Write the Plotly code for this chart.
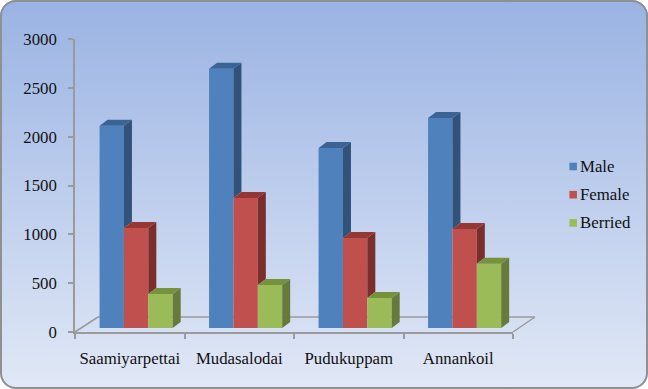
import plotly.graph_objects as go

categories = ["Saamiyarpettai", "Mudasalodai", "Pudukuppam", "Annankoil"]
male = [2070, 2655, 1843, 2150]
female = [1024, 1331, 921, 1013]
berried = [348, 440, 307, 658]
series_names = ["Male", "Female", "Berried"]
front_colors = ["#4f81bd", "#c0504d", "#9bbb59"]
side_colors = ["#315279", "#7a2f2d", "#667a3a"]
top_colors = ["#3b6494", "#953735", "#76923c"]
y_ticks = [0, 500, 1000, 1500, 2000, 2500, 3000]

W, H = 648, 389
L, R, T, B = 74.5, 513, 39, 332
px_x = (R - L) / 4
px_y = (B - T) / 3000
BAR_W = 24.4 / px_x
DX, DY = 8 / px_x, 6 / px_y
BASE = 4 / px_y
START = -30.2 / px_x
all_vals = [male, female, berried]

fig = go.Figure()
x_pos = list(range(4))
for s, vals in enumerate(all_vals):
    fig.add_trace(go.Bar(
        x=x_pos, y=vals, base=[BASE] * 4, width=[BAR_W] * 4,
        offset=[START + s * BAR_W] * 4, name=series_names[s],
        marker=dict(color=front_colors[s], line=dict(width=0)),
        showlegend=False, hoverinfo="skip"))

for s, vals in enumerate(all_vals):
    lower = all_vals[s + 1] if s < 2 else [0] * 4
    sx, sy, tx, ty = [], [], [], []
    for i, v in enumerate(vals):
        xl = i + START + s * BAR_W
        xr = xl + BAR_W
        top = BASE + v
        low = BASE + lower[i]
        sx += [xr, xr + DX, xr + DX, xr, xr, None]
        sy += [top, top + DY, low + DY, low, top, None]
        tx += [xl, xr, xr + DX, xl + DX, xl, None]
        ty += [top, top, top + DY, top + DY, top, None]
    for xs, ys, col in ((sx, sy, side_colors[s]), (tx, ty, top_colors[s])):
        fig.add_trace(go.Scatter(x=xs, y=ys, mode="lines", fill="toself",
                                 fillcolor=col, line=dict(width=0, color=col),
                                 showlegend=False, hoverinfo="skip"))

# floor of the 3D box, behind the bars
px = lambda p: (p - L) / (R - L)
GRID = "#9a9a9a"
floor = [((L, B), (L + 23, B - 15)), ((L + 23, B - 15), (R + 22, B - 15)), ((R + 22, B - 15), (R, B))]
shapes = [dict(type="line", xref="paper", yref="paper", layer="below",
               x0=px(a[0]), x1=px(b[0]), y0=(B - a[1]) / (B - T), y1=(B - b[1]) / (B - T),
               line=dict(color=GRID, width=1.5)) for a, b in floor]

# legend drawn to the reference's small swatches
annotations = []
for s, name in enumerate(series_names):
    yc = 166.5 + s * 28.2
    shapes.append(dict(type="rect", xref="paper", yref="paper", layer="above",
                       x0=px(569.5), x1=px(577), y0=(B - yc - 3.8) / (B - T), y1=(B - yc + 3.8) / (B - T),
                       fillcolor=front_colors[s], line=dict(width=0)))
    annotations.append(dict(text=name, xref="paper", yref="paper", x=px(578.5), y=(B - yc) / (B - T),
                            xanchor="left", yanchor="middle", showarrow=False,
                            font=dict(family="Liberation Serif", size=16.8, color="#111111")))

fig.update_layout(
    width=W, height=H, autosize=False,
    margin=dict(l=L, r=W - R, t=T, b=H - B, pad=0),
    paper_bgcolor="rgba(0,0,0,0)", plot_bgcolor="rgba(0,0,0,0)",
    barmode="overlay", showlegend=False,
    font=dict(family="Liberation Serif", color="#111111"),
    shapes=shapes, annotations=annotations,
    xaxis=dict(range=[-0.5, 3.5], tickmode="array", tickvals=x_pos, ticktext=categories,
               ticks="", showgrid=False, zeroline=False, showline=True, linecolor=GRID, linewidth=1.5,
               tickfont=dict(size=16.8, family="Liberation Serif", color="#111111"),
               ticklabelstandoff=10,
               minor=dict(tickmode="array", tickvals=[-0.5, 0.5, 1.5, 2.5, 3.5], ticks="outside",
                          ticklen=5, tickcolor=GRID, tickwidth=1.5, showgrid=False)),
    yaxis=dict(range=[0, 3000], tickmode="array", tickvals=y_ticks, ticks="outside", ticklen=5,
               tickcolor=GRID, tickwidth=1.5, showgrid=False, zeroline=False, showline=True,
               linecolor=GRID, linewidth=1.5, ticklabelstandoff=8,
               tickfont=dict(size=16.8, family="Liberation Serif", color="#111111")),
)

post = """
document.body.style.margin='0';
document.body.style.background='#ffffff';
var gd=document.getElementById('{plot_id}');
gd.style.borderRadius='16px';
gd.style.background='linear-gradient(180deg,#9ab3e3 0%,#e1e8f6 100%)';
gd.style.boxShadow='inset 0 0 0 2px #8f9090';
"""
fig.write_html("out.html", post_script=post, config=dict(displayModeBar=False))
